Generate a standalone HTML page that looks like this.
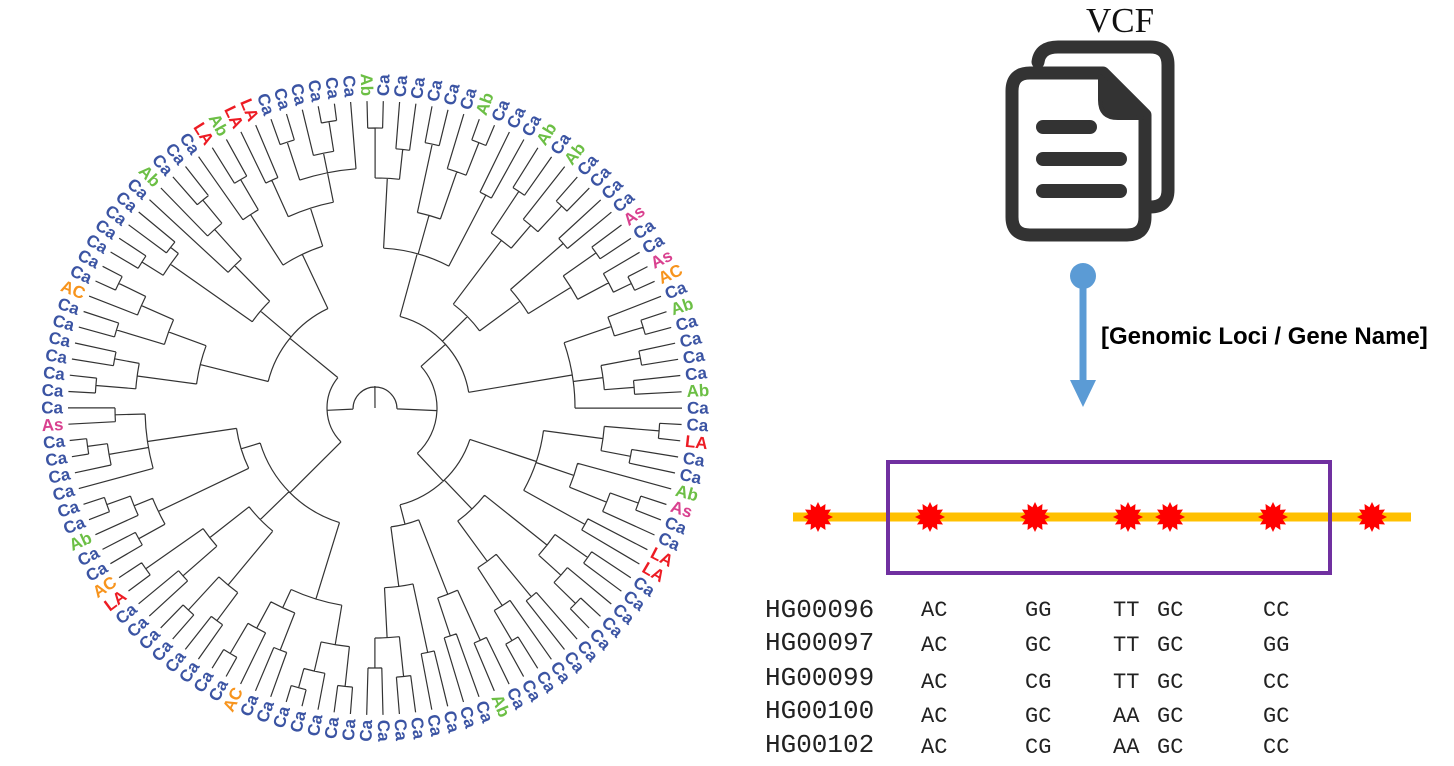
<!DOCTYPE html>
<html><head><meta charset="utf-8">
<style>
html,body{margin:0;padding:0;background:#fff;}
svg{display:block;}
</style></head>
<body>
<svg id="fig" width="1454" height="766" viewBox="0 0 1454 766" xmlns="http://www.w3.org/2000/svg">
  <g id="tree"></g>
  <g id="labels"></g>

  <text x="1120" y="32" text-anchor="middle" font-family="Liberation Serif, serif" font-size="35" fill="#111">VCF</text>
  <g>
    <path d="M1038 62 Q1040 47 1058 47 L1150 47 Q1168 47 1168 65 L1168 190 Q1168 207 1150 207" fill="none" stroke="#333" stroke-width="13" stroke-linecap="round"/>
    <path d="M1030 73 L1103 73 L1145 115 L1145 217 Q1145 235 1127 235 L1030 235 Q1012 235 1012 217 L1012 91 Q1012 73 1030 73 Z" fill="#fff" stroke="#333" stroke-width="13" stroke-linejoin="round"/>
    <path d="M1100 76 L1142 118 L1118 118 Q1100 118 1100 100 Z" fill="#333" stroke="#333" stroke-width="4" stroke-linejoin="round"/>
    <line x1="1043" y1="127" x2="1090" y2="127" stroke="#333" stroke-width="14" stroke-linecap="round"/>
    <line x1="1043" y1="159" x2="1120" y2="159" stroke="#333" stroke-width="14" stroke-linecap="round"/>
    <line x1="1043" y1="191" x2="1120" y2="191" stroke="#333" stroke-width="14" stroke-linecap="round"/>
  </g>

  <g>
    <circle cx="1083" cy="276" r="13" fill="#5b9bd5"/>
    <line x1="1083" y1="280" x2="1083" y2="384" stroke="#5b9bd5" stroke-width="7"/>
    <polygon points="1070,380 1096,380 1083,407" fill="#5b9bd5"/>
  </g>
  <text x="1101" y="344" font-family="Liberation Sans, sans-serif" font-weight="bold" font-size="24" fill="#000">[Genomic Loci / Gene Name]</text>

  <line x1="793" y1="517" x2="1411" y2="517" stroke="#ffc000" stroke-width="9"/>
  <g id="stars"></g>
  <rect x="888" y="462" width="442" height="111" fill="none" stroke="#7030a0" stroke-width="4"/>
  <g id="geno"></g>
</svg>
<script>
// ---- leaf data (clockwise, starting near 6 o'clock) ----
const leaves = [
 "Ca","Ca","Ca","Ca","Ca","Ca","Ca","AC","Ca","Ca","Ca","Ca","Ca","Ca","Ca","Ca","LA","AC","Ca","Ca","Ab","Ca","Ca","Ca","Ca","Ca","Ca","As","Ca",
 "Ca","Ca","Ca","Ca","Ca","Ca","AC","Ca","Ca","Ca","Ca","Ca","Ca","Ca","Ab","Ca","Ca","Ca","LA","Ab","LA","LA","Ca","Ca","Ca","Ca","Ca","Ca",
 "Ab","Ca","Ca","Ca","Ca","Ca","Ca","Ab","Ca","Ca","Ca","Ab","Ca","Ab","Ca","Ca","Ca","Ca","As","Ca","Ca","As","AC","Ca","Ab","Ca","Ca","Ca","Ca","Ab","Ca",
 "Ca","LA","Ca","Ca","Ab","As","Ca","Ca","LA","LA","Ca","Ca","Ca","Ca","Ca","Ca","Ca","Ca","Ca","Ca","Ca","Ab","Ca","Ca","Ca","Ca","Ca","Ca","Ca","Ca"
];
const groupColors = {Ca:"#3b54a3",Ab:"#6cbf45",LA:"#ed1c24",As:"#d9418f",AC:"#f7941d"};
// tree: [nodeRadius, child, child, ...]; numbers are leaf indices
const cladeBL = [120,
  [200,[240,[280,0,1],[270,2,[290,3,4]]],[220,[260,5,6],[250,7,[285,8,9]]]],
  [160,[230,[265,10,11],[275,12,13]],[210,[255,14,15],[280,16,17]]],
  [140,[240,[270,18,19],[260,20,[285,21,22]]],[230,23,[270,24,[290,25,26]],[260,27,28]]]];
const cladeTL = [110,
  [180,[240,[280,29,30],[265,31,32]],[220,[270,33,34],[255,35,[285,36,37]]]],
  [150,[250,[275,38,39],[260,40,41]],[200,42,[240,43,[270,44,45]]]],
  [170,[230,46,[265,47,48]],[210,[250,49,50],[240,[280,51,52],[260,53,[290,54,55]],56]]]];
const cladeTR = [95,
  [160,[230,[280,57,58],[260,59,60]],[200,[270,61,62],[250,63,[285,64,65]]],[240,66,67]],
  [130,[210,[260,68,69],[240,70,[275,71,72]]],[180,[250,73,74],[230,[270,75,76],[265,77,[285,78,79]]]]],
  [200,[250,80,[280,81,82]],[230,[270,83,84],[260,85,86]],87]];
const cladeBR = [100,
  [170,[230,[285,88,89],[260,90,91]],[210,92,[250,[280,93,94],95]],[240,96,97]],
  [140,[220,[260,98,99],[250,100,[280,101,102]]],[190,[245,103,104],[235,105,[270,106,107]]]],
  [120,[200,[255,108,109],[240,110,111]],[180,[250,112,113],[230,[270,114,115],[260,116,117]]]]];
const treeRoot = [22,[48,cladeBL,cladeTL],[62,cladeTR,cladeBR]];

// ---- right-panel data ----
const variantPos = [818,930,1035,1128,1170,1273,1372];
const samples = ["HG00096","HG00097","HG00099","HG00100","HG00102"];
const callCols = [921,1025,1113,1157,1263];
const calls = [
 ["AC","GG","TT","GC","CC"],
 ["AC","GC","TT","GC","GG"],
 ["AC","CG","TT","GC","CC"],
 ["AC","GC","AA","GC","GC"],
 ["AC","CG","AA","GC","CC"]];
const rowY = [617,650,685,718,752];
const callY = [616,651,688,722,753];

const NS="http://www.w3.org/2000/svg";
const CX=375, CY=408, TIP=307, LABR=312;
const step=360/leaves.length, startDeg=94.6;
function ang(i){return (startDeg+i*step)*Math.PI/180;}
function pt(r,a){return [CX+r*Math.cos(a),CY+r*Math.sin(a)];}

const treeG=document.getElementById('tree');
function mk(tag,attrs,parent){const e=document.createElementNS(NS,tag);for(const k in attrs)e.setAttribute(k,attrs[k]);parent.appendChild(e);return e;}
let d="";
function layout(node){
  if(typeof node==="number") return {a:ang(node),r:TIP};
  const r=node[0];
  const kids=node.slice(1).map(layout);
  kids.forEach(k=>{const p1=pt(r,k.a),p2=pt(k.r,k.a);d+=`M${p1[0].toFixed(1)} ${p1[1].toFixed(1)}L${p2[0].toFixed(1)} ${p2[1].toFixed(1)}`;});
  const a0=Math.min(...kids.map(k=>k.a)),a1=Math.max(...kids.map(k=>k.a));
  const s=pt(r,a0),e=pt(r,a1);
  d+=`M${s[0].toFixed(1)} ${s[1].toFixed(1)}A${r} ${r} 0 ${(a1-a0)>Math.PI?1:0} 1 ${e[0].toFixed(1)} ${e[1].toFixed(1)}`;
  return {a:(a0+a1)/2,r:r};
}
const rootL=layout(treeRoot);
{const p=pt(rootL.r,rootL.a);d+=`M${CX} ${CY}L${p[0].toFixed(1)} ${p[1].toFixed(1)}`;}
const branches=mk('path',{d:d,fill:"none",stroke:"#333",'stroke-width':"1.2"},treeG);



const labG=document.getElementById('labels');
leaves.forEach((lab,i)=>{
  const deg=startDeg+i*step;
  const a=ang(i);
  const p=pt(LABR,a);
  const norm=((deg%360)+360)%360;
  const left = norm>90 && norm<270;
  const t=mk('text',{x:p[0].toFixed(1),y:p[1].toFixed(1),'font-family':"Liberation Sans, sans-serif",'font-weight':"bold",'font-size':"17",fill:groupColors[lab],'dominant-baseline':"central",'text-anchor':left?"end":"start",transform:`rotate(${left?deg+180:deg} ${p[0].toFixed(1)} ${p[1].toFixed(1)})`},labG);
  t.textContent=lab;
  
  
});

const starG=document.getElementById('stars');
function starPts(cx,cy){let s=[];for(let k=0;k<24;k++){const r=k%2?10:15;const a=k*Math.PI/12;s.push((cx+r*Math.cos(a)).toFixed(1)+","+(cy+r*Math.sin(a)).toFixed(1));}return s.join(" ");}
variantPos.forEach(x=>{
  const s=mk('polygon',{points:starPts(x,517),fill:"#ff0000"},starG);
  
  
});

const genoG=document.getElementById('geno');
samples.forEach((sname,ri)=>{
  const t=mk('text',{x:765,y:rowY[ri],'font-family':"Liberation Mono, monospace",'font-size':"26",fill:"#222"},genoG);
  t.textContent=sname;
  
  
  calls[ri].forEach((c,ci)=>{
    const u=mk('text',{x:callCols[ci],y:callY[ri],'font-family':"Liberation Mono, monospace",'font-size':"22",fill:"#222"},genoG);
    u.textContent=c;
    
    
  });
});
</script>
</body></html>
